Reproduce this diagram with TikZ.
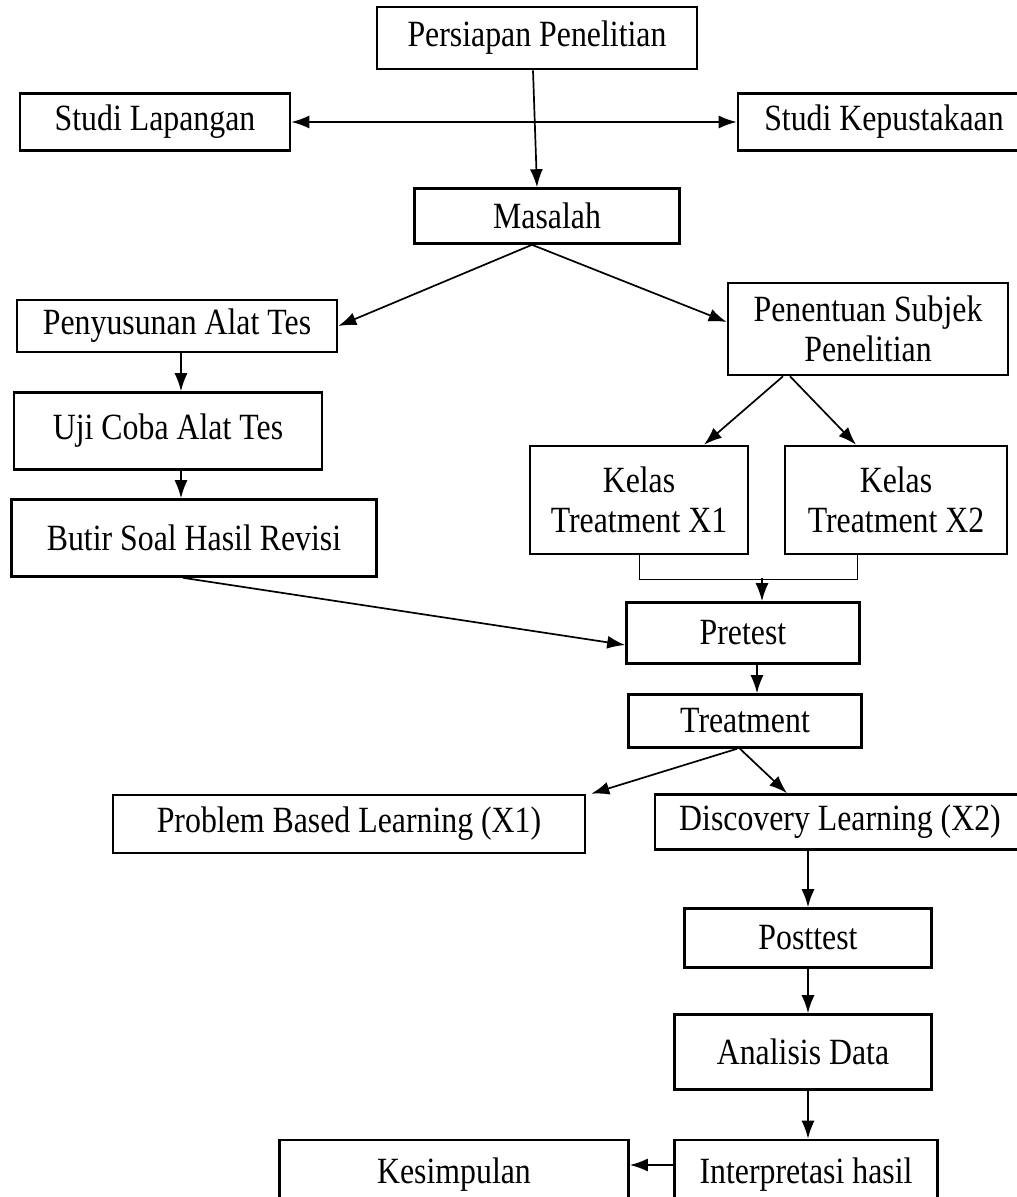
\documentclass[tikz,border=0pt]{standalone}
\usepackage{fontspec}
\setmainfont{Liberation Serif}[FakeStretch=0.86]
\usepackage{tikz}
\usetikzlibrary{arrows.meta}

\begin{document}
\begin{tikzpicture}[
x=1pt, y=-1pt,
% Style for the boxes
box style/.style={
rectangle,
draw=black,
line width=2.6pt,
align=center,
inner sep=0pt,
font=\fontsize{37}{40}\selectfont
},
% Style for the connectors
link style/.style={
line width=1.7pt,
-{Latex[length=18pt,width=13pt]}
}
]

% Page area (boxes at the edge are cut)
\clip (0,0) rectangle (1017,1197);

% Top: preparation and studies
\node[box style, minimum width=320pt, minimum height=62pt] (persiapan) at (537,38) {Persiapan Penelitian};
\node[box style, minimum width=270pt, minimum height=57pt] (lapangan) at (155,122) {Studi Lapangan};
\node[box style, minimum width=292pt, minimum height=57pt] (pustaka) at (884,122) {Studi Kepustakaan};
\node[box style, minimum width=265pt, minimum height=55pt] (masalah) at (547,216) {Masalah};

% Left branch: test instrument
\node[box style, minimum width=320pt, minimum height=52pt] (susun) at (177,326) {Penyusunan Alat Tes};
\node[box style, minimum width=308pt, minimum height=77pt] (ujicoba) at (168,431) {Uji Coba Alat Tes};
\node[box style, minimum width=365pt, minimum height=77pt] (butir) at (194,538) {Butir Soal Hasil Revisi};

% Right branch: subjects and classes
\node[box style, minimum width=280pt, minimum height=92pt] (subjek) at (868,329) {Penentuan Subjek\\Penelitian};
\node[box style, minimum width=218pt, minimum height=108pt] (kelas1) at (639,500) {Kelas\\Treatment X1};
\node[box style, minimum width=222pt, minimum height=108pt] (kelas2) at (896,500) {Kelas\\Treatment X2};

% Middle: pretest and treatment
\node[box style, minimum width=233pt, minimum height=61pt] (pretest) at (743,633) {Pretest};
\node[box style, minimum width=233pt, minimum height=53pt] (treat) at (745,721) {Treatment};
\node[box style, minimum width=472pt, minimum height=58pt] (pbl) at (349,824) {Problem Based Learning (X1)};
\node[box style, minimum width=370pt, minimum height=55pt] (dl) at (840,822) {Discovery Learning (X2)};

% Bottom: posttest and analysis
\node[box style, minimum width=247pt, minimum height=59pt] (posttest) at (808,938) {Posttest};
\node[box style, minimum width=257pt, minimum height=75pt] (analisis) at (803,1052) {Analisis Data};
\node[box style, minimum width=263pt, minimum height=70pt] (interpretasi) at (806,1175) {Interpretasi hasil};
\node[box style, minimum width=349pt, minimum height=70pt] (simpulan) at (454,1175) {Kesimpulan};

% Connectors at the top
\draw[link style] ([xshift=-4pt]persiapan.south) -- ([xshift=-10pt]masalah.north);
\draw[line width=1.7pt, {Latex[length=18pt,width=13pt]}-{Latex[length=18pt,width=13pt]}] (lapangan.east) -- (pustaka.west);
\draw[link style] ([xshift=-15pt]masalah.south) -- (susun.east);
\draw[link style] ([xshift=-15pt]masalah.south) -- ([yshift=7pt]subjek.west);

% Left branch connectors
\draw[link style] ([xshift=4pt]susun.south) -- ([xshift=4pt]susun.south |- ujicoba.north);
\draw[link style] ([xshift=13pt]ujicoba.south) -- ([xshift=13pt]ujicoba.south |- butir.north);
\draw[link style] ([xshift=-11pt]butir.south) -- ([yshift=-12pt]pretest.west);

% Right branch connectors
\draw[link style] ([xshift=-85pt]subjek.south) -- ([xshift=65pt]kelas1.north);
\draw[link style] ([xshift=-78pt]subjek.south) -- ([xshift=-40pt]kelas2.north);
\draw[line width=0.9pt] (kelas1.south) -- ++(0,24) coordinate (gab1) -| ([xshift=-39pt]kelas2.south);
\coordinate (gab) at (762,578);
\draw[link style] (gab) -- (gab |- pretest.north);

% Middle connectors
\draw[link style] ([xshift=14pt]pretest.south) -- ([xshift=14pt]pretest.south |- treat.north);
\draw[link style] ([xshift=-8pt]treat.south) -- ([xshift=5pt]pbl.north east);
\draw[link style] ([xshift=-5pt]treat.south) -- ([xshift=-53pt]dl.north);

% Bottom connectors
\draw[link style] (posttest.north |- dl.south) -- (posttest.north);
\draw[link style] (posttest.south) -- (posttest.south |- analisis.north);
\draw[link style] (posttest.south |- analisis.south) -- (posttest.south |- interpretasi.north);
\draw[link style] ([yshift=10pt]interpretasi.west) -- ([yshift=10pt]simpulan.east);

\end{tikzpicture}
\end{document}
